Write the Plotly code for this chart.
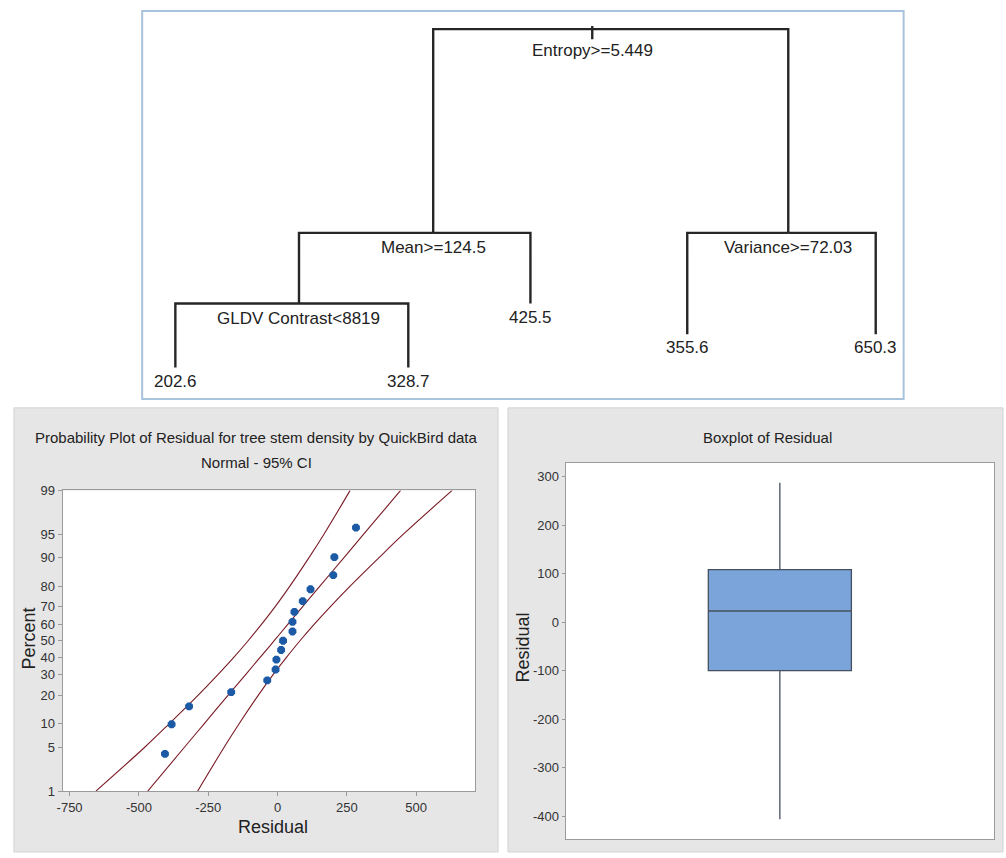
import plotly.graph_objects as go
from statistics import NormalDist

FONT = "Liberation Sans, Arial, sans-serif"

# ---------------- Regression tree (split labels, leaf means, layout)
tree_labels = ["Entropy>=5.449", "Mean>=124.5", "Variance>=72.03", "GLDV Contrast<8819",
               "425.5", "202.6", "328.7", "355.6", "650.3"]
tree_parent = [None, 0, 0, 1, 1, 3, 3, 2, 2]
tree_is_leaf = [False, False, False, False, True, True, True, True, True]
tree_xpos = [58.7, 37.6, 84.7, 19.8, 50.5, 3.4, 34.3, 71.3, 96.3]      # horizontal position (0-100)
tree_height = [95.3, 42.8, 42.8, 24.6, 24.6, 8.1, 8.1, 16.7, 16.7]    # node height (0-100)

# ---------------- Normal probability plot of residuals
residuals = [-406, -382, -319, -167, -37, -7, -4, 13, 20, 54, 54, 61, 91, 119, 201, 205, 283]
percents = [4.0, 9.8, 15.5, 21.3, 27.0, 32.8, 38.5, 44.3, 50.0, 55.7, 61.5, 67.2,
            73.0, 78.7, 84.5, 90.2, 96.0]
ci_percent = [1, 5, 10, 20, 30, 40, 50, 60, 70, 80, 90, 95, 99]
ci_lower = [-655, -478, -390, -286, -215, -157, -106, -58, -9, 44, 113, 167, 262]
ci_fit = [-468, -335, -264, -178, -115, -62, -12, 37, 90, 152, 239, 310, 444]
ci_upper = [-288, -192, -138, -69, -16, 33, 81, 132, 190, 261, 365, 453, 630]
resid_ticks = [-750, -500, -250, 0, 250, 500]
pct_ticks = [1, 5, 10, 20, 30, 40, 50, 60, 70, 80, 90, 95, 99]

# ---------------- Boxplot of residuals
box_q1 = -100
box_median = 23
box_q3 = 108
box_low = -406
box_high = 287
box_ticks = [-400, -300, -200, -100, 0, 100, 200, 300]

nd = NormalDist()
def pz(p):
    return nd.inv_cdf(p / 100.0)

W, H = 1006, 858
def px(x):
    return x / W
def py(y):
    return 1 - y / H

fig = go.Figure()

# ----- tree edges
ex, ey = [], []
for i, par in enumerate(tree_parent):
    if par is None:
        continue
    ex += [tree_xpos[par], tree_xpos[i], tree_xpos[i], None]
    ey += [tree_height[par], tree_height[par], tree_height[i], None]
ex += [tree_xpos[0], tree_xpos[0], None]
ey += [tree_height[0] + 0.8, tree_height[0] - 2.6, None]
fig.add_trace(go.Scatter(x=ex, y=ey, mode="lines", line=dict(color="#262626", width=2.4),
                         xaxis="x3", yaxis="y3", hoverinfo="skip"))

annotations = []
for i, lab in enumerate(tree_labels):
    shift = -2 if tree_is_leaf[i] else (-10 if tree_parent[i] is None else -3)
    annotations.append(dict(x=tree_xpos[i], y=tree_height[i], xref="x3", yref="y3",
                            text=lab, showarrow=False, xanchor="center", yanchor="top",
                            yshift=shift, font=dict(family=FONT, size=17, color="#222")))

# ----- probability plot
line_col = "#7a1a24"
for arr in (ci_lower, ci_fit, ci_upper):
    fig.add_trace(go.Scatter(x=arr, y=[pz(p) for p in ci_percent], mode="lines",
                             line=dict(color=line_col, width=1.1, shape="spline"),
                             xaxis="x", yaxis="y", hoverinfo="skip"))
fig.add_trace(go.Scatter(x=residuals, y=[pz(p) for p in percents], mode="markers",
                         marker=dict(color="#1c5aa6", size=8.5, symbol="octagon"),
                         xaxis="x", yaxis="y"))

# ----- boxplot
fig.add_trace(go.Box(x=[0], q1=[box_q1], median=[box_median], q3=[box_q3],
                     lowerfence=[box_low], upperfence=[box_high],
                     width=0.334, whiskerwidth=0, boxpoints=False,
                     fillcolor="#7ba4da", line=dict(color="#46505e", width=1.3),
                     xaxis="x2", yaxis="y2", hoverinfo="skip"))

tickfont = dict(family=FONT, size=13, color="#333")
axis_common = dict(showgrid=False, zeroline=False, showline=True, mirror=True,
                   linecolor="#9a9a9a", linewidth=1, ticks="outside", tickcolor="#9a9a9a",
                   ticklen=4, tickfont=tickfont)

fig.update_layout(
    width=W, height=H, margin=dict(l=0, r=0, t=0, b=0),
    paper_bgcolor="white", plot_bgcolor="white", showlegend=False,
    xaxis=dict(domain=[px(57), px(472)], range=[-775, 713], tickvals=resid_ticks,
               ticktext=[str(v) for v in resid_ticks], anchor="y", **axis_common),
    yaxis=dict(domain=[py(798), py(492)], range=[pz(1), pz(99)],
               tickvals=[pz(p) for p in pct_ticks], ticktext=[str(p) for p in pct_ticks],
               anchor="x", **axis_common),
    xaxis2=dict(domain=[px(563), px(994)], range=[-0.5, 0.5], showticklabels=False,
                showgrid=False, zeroline=False, showline=True, mirror=True,
                linecolor="#9a9a9a", ticks="", anchor="y2"),
    yaxis2=dict(domain=[py(847), py(464)], range=[-447, 328], tickvals=box_ticks,
                ticktext=[str(v) for v in box_ticks],
                anchor="x2", **{**axis_common, "ticklen": 3}),
    xaxis3=dict(domain=[px(137), px(903)], range=[-1, 100], visible=False, anchor="y3"),
    yaxis3=dict(domain=[py(399), py(4)], range=[0, 100], visible=False, anchor="x3"),
)

shapes = [
    dict(type="rect", xref="paper", yref="paper", x0=px(137), x1=px(903), y0=py(399), y1=py(4),
         line=dict(color="#a9c3dc", width=2), fillcolor="rgba(0,0,0,0)", layer="above"),
    dict(type="rect", xref="paper", yref="paper", x0=px(8), x1=px(495), y0=py(860), y1=py(408),
         line=dict(color="#d2d2d2", width=1), fillcolor="#e6e6e6", layer="below"),
    dict(type="rect", xref="paper", yref="paper", x0=px(505), x1=px(1003), y0=py(860), y1=py(408),
         line=dict(color="#d2d2d2", width=1), fillcolor="#e6e6e6", layer="below"),
    dict(type="rect", xref="paper", yref="paper", x0=px(57), x1=px(472), y0=py(798), y1=py(492),
         line=dict(width=0), fillcolor="white", layer="below"),
    dict(type="rect", xref="paper", yref="paper", x0=px(563), x1=px(994), y0=py(847), y1=py(464),
         line=dict(width=0), fillcolor="white", layer="below"),
]

title_font = dict(family=FONT, size=15, color="#222")
axt_font = dict(family=FONT, size=18, color="#222")
annotations += [
    dict(x=px(252), y=py(438), xref="paper", yref="paper", showarrow=False,
         text="Probability Plot of Residual for tree stem density by QuickBird data",
         font=title_font, xanchor="center", yanchor="middle"),
    dict(x=px(252), y=py(464), xref="paper", yref="paper", showarrow=False,
         text="Normal - 95% CI", font=title_font, xanchor="center", yanchor="middle"),
    dict(x=px(23), y=py(643), xref="paper", yref="paper", showarrow=False, textangle=-90,
         text="Percent", font=axt_font, xanchor="center", yanchor="middle"),
    dict(x=px(269), y=py(835), xref="paper", yref="paper", showarrow=False,
         text="Residual", font=axt_font, xanchor="center", yanchor="middle"),
    dict(x=px(766), y=py(438), xref="paper", yref="paper", showarrow=False,
         text="Boxplot of Residual", font=title_font, xanchor="center", yanchor="middle"),
    dict(x=px(520), y=py(652), xref="paper", yref="paper", showarrow=False, textangle=-90,
         text="Residual", font=axt_font, xanchor="center", yanchor="middle"),
]

fig.update_layout(shapes=shapes, annotations=annotations)
fig.write_html("out.html", config={"displayModeBar": False},
               post_script="document.body.style.margin='0';")
